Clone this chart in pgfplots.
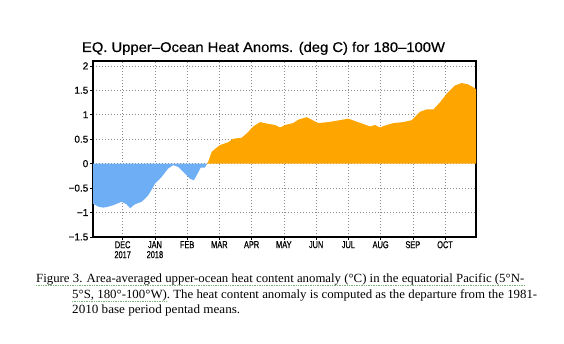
\documentclass[border=0pt]{standalone}
\usepackage{pgfplots}
\pgfplotsset{compat=1.18}
\usepackage{fontspec}
\setmainfont{Liberation Serif}
\newfontfamily\grads[FakeBold=0.5]{Liberation Sans}
\newfontfamily\gradsc[FakeStretch=0.74,FakeBold=0.6]{Liberation Sans}
\definecolor{negblue}{RGB}{110,174,245}
\definecolor{posorange}{RGB}{255,165,0}
\definecolor{squig}{RGB}{120,180,120}
\newsavebox\capbox
\newcommand\fitline[2]{\sbox\capbox{#2}\pgfmathsetmacro\capsc{#1/\the\wd\capbox}\scalebox{\capsc}[1]{\usebox\capbox}}

\begin{document}
\begin{tikzpicture}
\path[use as bounding box] (0pt,0pt) rectangle (564pt,344pt);
\begin{axis}[
  at={(93pt,107pt)}, anchor=south west,
  scale only axis, width=383pt, height=176pt,
  xmin=-0.92, xmax=10.96, ymin=-1.5, ymax=2.1,
  xtick={0,...,10},
  xticklabels={{DEC\\2017},{JAN\\2018},FEB,MAR,APR,MAY,JUN,JUL,AUG,SEP,OCT},
  x tick label style={align=center, font=\gradsc\fontsize{10}{10}\selectfont, inner sep=1pt},
  ytick={-1.5,-1,-0.5,0,0.5,1,1.5,2},
  yticklabels={−1.5,−1,−0.5,0,0.5,1,1.5,2},
  y tick label style={font=\grads\fontsize{10}{10}\selectfont, inner sep=1.5pt},
  tick pos=left,
  tick align=outside,
  major tick length=3pt,
  minor x tick num=5,
  minor tick length=1.5pt,
  tick style={black, line width=0.6pt},
  grid=major,
  major grid style={black!45, dash pattern=on 0.8pt off 2.2pt, line width=0.6pt},
  axis line style={black, line width=1.1pt},
]
\addplot[fill=negblue, draw=none] coordinates {
(-0.92,0) (-0.92,-0.82) (-0.75,-0.88) (-0.60,-0.90) (-0.45,-0.88) (-0.29,-0.85)
(-0.15,-0.81) (-0.03,-0.78) (0.12,-0.83) (0.23,-0.91) (0.38,-0.83) (0.59,-0.78)
(0.79,-0.65) (0.90,-0.53) (1.00,-0.41) (1.21,-0.27) (1.41,-0.10) (1.57,-0.03)
(1.73,-0.07) (1.93,-0.20) (2.09,-0.31) (2.21,-0.34) (2.35,-0.17) (2.42,-0.08)
(2.55,-0.08) (2.62,0)
} \closedcycle;
\addplot[fill=posorange, draw=none] coordinates {
(2.62,0) (2.66,0.05) (2.76,0.24) (2.90,0.32) (3.02,0.38) (3.28,0.44) (3.43,0.51)
(3.69,0.53) (3.85,0.62) (4.05,0.76) (4.26,0.85) (4.47,0.82) (4.73,0.79) (4.88,0.74)
(5.04,0.79) (5.29,0.83) (5.45,0.90) (5.71,0.95) (5.86,0.90) (6.07,0.83) (6.38,0.85)
(6.74,0.89) (7.00,0.92) (7.21,0.87) (7.47,0.81) (7.67,0.76) (7.83,0.79) (7.98,0.74)
(8.19,0.79) (8.40,0.83) (8.71,0.85) (8.97,0.89) (9.22,1.06) (9.43,1.11) (9.64,1.11)
(9.85,1.26) (10.05,1.43) (10.31,1.60) (10.52,1.65) (10.72,1.62) (10.93,1.54)
(10.96,1.52) (10.96,0)
} \closedcycle;
\end{axis}
\node[anchor=base, inner sep=0pt, font=\grads\fontsize{14}{14}\selectfont] at (263.5pt,292pt) {\fitline{363}{EQ. Upper–Ocean Heat Anoms. (deg C) for 180–100W}};
\begin{scope}[font=\fontsize{12.5}{13}\selectfont]
\node[anchor=base west, inner sep=0pt] at (36pt,61.3pt) {\fitline{488}{Figure 3. Area-averaged upper-ocean heat content anomaly (°C) in the equatorial Pacific (5°N-}};
\node[anchor=base west, inner sep=0pt] at (72pt,45.3pt) {\fitline{465}{5°S, 180°-100°W). The heat content anomaly is computed as the departure from the 1981-}};
\node[anchor=base west, inner sep=0pt] at (72pt,30.3pt) {\fitline{168}{2010 base period pentad means.}};
\end{scope}
\draw[squig, line width=0.6pt, dash pattern=on 0.7pt off 1pt] (36pt,58.5pt) -- (524pt,58.5pt);
\draw[squig, line width=0.6pt, dash pattern=on 0.7pt off 1pt] (72pt,42.5pt) -- (167pt,42.5pt);
\end{tikzpicture}
\end{document}
